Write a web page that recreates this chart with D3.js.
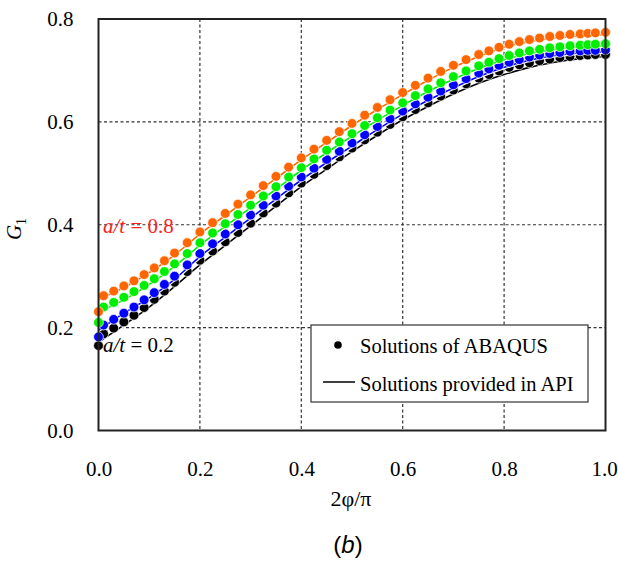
<!doctype html>
<html>
<head>
    <title>G1 along crack front</title>
    <script src="https://d3js.org/d3.v7.min.js"></script>
    <style>
        body { margin: 0; background: #fff; }
        text { font-family: "Liberation Serif", "Times New Roman", serif; }
    </style>
</head>
<body>
<svg width="618" height="561"></svg>
<script>
    // x positions of the ABAQUS points (2phi/pi)
    var abaqusX = [0, 0.01, 0.03, 0.05, 0.07, 0.09, 0.11, 0.13, 0.15, 0.175, 0.2, 0.225, 0.25, 0.275, 0.3,
        0.325, 0.35, 0.375, 0.4, 0.425, 0.45, 0.475, 0.5, 0.525, 0.55, 0.575, 0.6, 0.625, 0.65, 0.675,
        0.7, 0.725, 0.75, 0.77, 0.79, 0.81, 0.83, 0.85, 0.87, 0.89, 0.91, 0.93, 0.95, 0.965, 0.98, 1.0];

    // ABAQUS G1 values, one array per a/t
    var abaqus02 = [0.165, 0.188, 0.199, 0.211, 0.224, 0.239, 0.255, 0.271, 0.288, 0.309, 0.331, 0.349, 0.367, 0.385, 0.403,
        0.423, 0.442, 0.462, 0.481, 0.498, 0.515, 0.532, 0.549, 0.565, 0.580, 0.595, 0.610, 0.624, 0.637, 0.650,
        0.662, 0.674, 0.685, 0.692, 0.699, 0.706, 0.711, 0.715, 0.719, 0.722, 0.725, 0.727, 0.729, 0.730, 0.731, 0.731];
    var abaqus04 = [0.182, 0.205, 0.216, 0.228, 0.240, 0.254, 0.268, 0.284, 0.300, 0.322, 0.344, 0.363, 0.382, 0.400, 0.419,
        0.438, 0.456, 0.475, 0.493, 0.510, 0.527, 0.543, 0.559, 0.575, 0.591, 0.606, 0.621, 0.635, 0.648, 0.660,
        0.672, 0.684, 0.695, 0.703, 0.710, 0.716, 0.721, 0.726, 0.730, 0.733, 0.735, 0.737, 0.738, 0.739, 0.739, 0.740];
    var abaqus06 = [0.210, 0.240, 0.249, 0.259, 0.270, 0.282, 0.295, 0.309, 0.324, 0.344, 0.365, 0.384, 0.402, 0.420, 0.438,
        0.456, 0.474, 0.493, 0.511, 0.528, 0.545, 0.561, 0.577, 0.593, 0.608, 0.623, 0.637, 0.651, 0.664, 0.676,
        0.688, 0.699, 0.709, 0.716, 0.723, 0.729, 0.734, 0.738, 0.741, 0.744, 0.746, 0.748, 0.749, 0.750, 0.751, 0.752];
    var abaqus08 = [0.231, 0.262, 0.271, 0.281, 0.291, 0.303, 0.316, 0.330, 0.345, 0.365, 0.386, 0.404, 0.422, 0.440, 0.458,
        0.476, 0.494, 0.512, 0.530, 0.547, 0.564, 0.581, 0.597, 0.613, 0.628, 0.643, 0.657, 0.671, 0.685, 0.698,
        0.710, 0.721, 0.731, 0.738, 0.745, 0.751, 0.756, 0.760, 0.763, 0.766, 0.768, 0.770, 0.771, 0.772, 0.773, 0.774];

    // API solutions (lines)
    var apiX = [0, 0.05, 0.1, 0.15, 0.2, 0.25, 0.3, 0.35, 0.4, 0.45, 0.5, 0.55, 0.6, 0.65, 0.7, 0.75, 0.8, 0.85, 0.9, 0.95, 1.0];
    var api02 = [0.172, 0.205, 0.240, 0.280, 0.322, 0.360, 0.398, 0.436, 0.474, 0.508, 0.542, 0.574, 0.604, 0.630, 0.654, 0.675, 0.692, 0.706, 0.716, 0.723, 0.727];
    var api04 = [0.195, 0.228, 0.258, 0.294, 0.338, 0.376, 0.413, 0.450, 0.487, 0.521, 0.553, 0.585, 0.615, 0.642, 0.666, 0.688, 0.706, 0.720, 0.729, 0.734, 0.736];
    var api06 = [0.230, 0.254, 0.284, 0.319, 0.360, 0.397, 0.433, 0.469, 0.506, 0.540, 0.572, 0.603, 0.632, 0.659, 0.683, 0.704, 0.721, 0.733, 0.741, 0.746, 0.748];
    var api08 = [0.255, 0.278, 0.307, 0.341, 0.382, 0.418, 0.454, 0.490, 0.526, 0.560, 0.593, 0.624, 0.653, 0.681, 0.706, 0.727, 0.745, 0.756, 0.763, 0.767, 0.770];

    var colors = ["#000000", "#0000ff", "#00ee00", "#ff6600"];

    var xTicks = [0, 0.2, 0.4, 0.6, 0.8, 1.0];
    var yTicks = [0, 0.2, 0.4, 0.6, 0.8];

    var series = [
        { dots: abaqus02, line: api02, color: colors[0] },
        { dots: abaqus04, line: api04, color: colors[1] },
        { dots: abaqus06, line: api06, color: colors[2] },
        { dots: abaqus08, line: api08, color: colors[3] }
    ];

    var svg = d3.select("svg");
    svg.append("rect").attr("width", 618).attr("height", 561).attr("fill", "#fff");

    // plot area edges (note: "top" is a reserved window property, so use pl* names)
    var plLeft = 98.5, plTop = 19, plRight = 605.5, plBottom = 430.5;

    var xScale = d3.scaleLinear().domain([0, 1]).range([plLeft, plRight]);
    var yScale = d3.scaleLinear().domain([0, 0.8]).range([plBottom, plTop]);

    // dotted grid
    svg.append("g").selectAll("line")
        .data(xTicks.slice(1, -1))
        .enter().append("line")
        .attr("x1", function(d) { return xScale(d); })
        .attr("x2", function(d) { return xScale(d); })
        .attr("y1", plTop).attr("y2", plBottom)
        .attr("stroke", "#333").attr("stroke-width", 1.2)
        .attr("stroke-dasharray", "3,2.5");
    svg.append("g").selectAll("line")
        .data(yTicks.slice(1, -1))
        .enter().append("line")
        .attr("y1", function(d) { return yScale(d); })
        .attr("y2", function(d) { return yScale(d); })
        .attr("x1", plLeft).attr("x2", plRight)
        .attr("stroke", "#333").attr("stroke-width", 1.2)
        .attr("stroke-dasharray", "3,2.5");

    // axes (labels only, no tick marks)
    var xAxis = svg.append("g")
        .attr("transform", "translate(0," + plBottom + ")")
        .call(d3.axisBottom(xScale).tickValues(xTicks).tickFormat(d3.format(".1f")).tickSize(0).tickPadding(31));
    var yAxis = svg.append("g")
        .attr("transform", "translate(" + plLeft + ",0)")
        .call(d3.axisLeft(yScale).tickValues(yTicks).tickFormat(d3.format(".1f")).tickSize(0).tickPadding(25));
    [xAxis, yAxis].forEach(function(a) {
        a.select(".domain").remove();
        a.selectAll("text")
         .style("font-family", "'Liberation Serif', serif")
         .style("font-size", "21px")
         .attr("fill", "#000");
    });
    // keep the last x label inside the page
    xAxis.selectAll("text").filter(function(d) { return d === 1; }).attr("dx", -1.5);

    var line = d3.line()
        .x(function(d) { return xScale(d[0]); })
        .y(function(d) { return yScale(d[1]); })
        .curve(d3.curveMonotoneX);

    // each a/t: API line with white halo, then ABAQUS dots
    series.forEach(function(s) {
        var pts = apiX.map(function(x, i) { return [x, s.line[i]]; });
        svg.append("path").datum(pts)
            .attr("d", line).attr("fill", "none")
            .attr("stroke", "#fff").attr("stroke-width", 4);
        svg.append("path").datum(pts)
            .attr("d", line).attr("fill", "none")
            .attr("stroke", s.color).attr("stroke-width", 1.6);
        svg.append("g").selectAll("circle")
            .data(abaqusX.map(function(x, i) { return [x, s.dots[i]]; }))
            .enter().append("circle")
            .attr("cx", function(d) { return xScale(d[0]); })
            .attr("cy", function(d) { return yScale(d[1]); })
            .attr("r", 4.9)
            .attr("fill", s.color)
            .attr("stroke", "#fff").attr("stroke-width", 0.7);
    });

    // plot frame
    svg.append("rect")
        .attr("x", plLeft).attr("y", plTop)
        .attr("width", plRight - plLeft).attr("height", plBottom - plTop)
        .attr("fill", "none").attr("stroke", "#222").attr("stroke-width", 2);

    // a/t annotations
    var ann = [{ label: "0.8", color: "#ff2020", y: 233 }, { label: "0.2", color: "#000", y: 352 }];
    ann.forEach(function(a) {
        var t = svg.append("text").attr("x", 103).attr("y", a.y)
            .attr("fill", a.color).style("font-size", "21px");
        t.append("tspan").style("font-style", "italic").text("a/t");
        t.append("tspan").text(" = " + a.label);
    });

    // legend
    var lg = svg.append("g");
    lg.append("rect").attr("x", 311).attr("y", 325).attr("width", 277).attr("height", 77)
        .attr("fill", "#fff").attr("stroke", "#333").attr("stroke-width", 1.2);
    lg.append("circle").attr("cx", 338).attr("cy", 345).attr("r", 3.8).attr("fill", "#000");
    lg.append("text").attr("x", 360).attr("y", 353).style("font-size", "20.5px").text("Solutions of ABAQUS");
    lg.append("line").attr("x1", 323).attr("x2", 355).attr("y1", 382).attr("y2", 382)
        .attr("stroke", "#000").attr("stroke-width", 1.5);
    lg.append("text").attr("x", 360).attr("y", 391).style("font-size", "20.5px").text("Solutions provided in API");

    // axis titles
    svg.append("text").attr("x", 351).attr("y", 506).attr("text-anchor", "middle")
        .style("font-size", "22px").text("2φ/π");

    var yt = svg.append("text").attr("transform", "translate(21,229) rotate(-90)")
        .attr("text-anchor", "middle").style("font-size", "21px");
    yt.append("tspan").style("font-style", "italic").text("G");
    yt.append("tspan").attr("dy", 5).style("font-size", "14px").text("1");

    // panel label
    var pl = svg.append("text").attr("x", 348).attr("y", 553).attr("text-anchor", "middle")
        .style("font-family", "'Liberation Sans', Arial, sans-serif").style("font-size", "24px");
    pl.append("tspan").text("(");
    pl.append("tspan").style("font-style", "italic").text("b");
    pl.append("tspan").text(")");
</script>
</body>
</html>
